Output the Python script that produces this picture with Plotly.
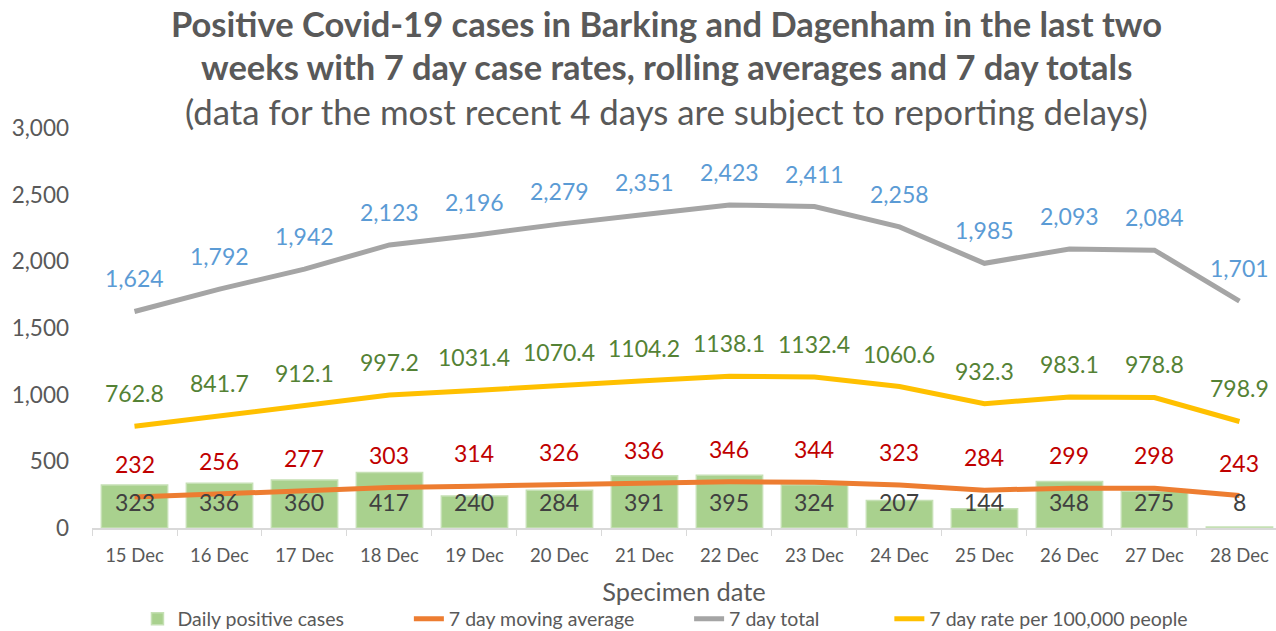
import plotly.graph_objects as go

dates = ["15 Dec", "16 Dec", "17 Dec", "18 Dec", "19 Dec", "20 Dec", "21 Dec",
         "22 Dec", "23 Dec", "24 Dec", "25 Dec", "26 Dec", "27 Dec", "28 Dec"]
daily_cases = [323, 336, 360, 417, 240, 284, 391, 395, 324, 207, 144, 348, 275, 8]
moving_avg = [232, 256, 277, 303, 314, 326, 336, 346, 344, 323, 284, 299, 298, 243]
total_7day = [1624, 1792, 1942, 2123, 2196, 2279, 2351, 2423, 2411, 2258, 1985, 2093, 2084, 1701]
rate_7day = [762.8, 841.7, 912.1, 997.2, 1031.4, 1070.4, 1104.2, 1138.1, 1132.4, 1060.6,
             932.3, 983.1, 978.8, 798.9]
series_names = ["Daily positive cases", "7 day moving average", "7 day total",
                "7 day rate per 100,000 people"]

FONT = "Lato"
GREY_TXT = "#595959"
NB = "\u00a0"

fig = go.Figure()
fig.add_trace(go.Bar(x=dates, y=daily_cases, name=series_names[0] + NB * 12,
                     marker=dict(color="#A9D18E", line=dict(color="#C5E0B4", width=1.5)),
                     width=0.78))
fig.add_trace(go.Scatter(x=dates, y=moving_avg, name=series_names[1] + NB * 10, mode="lines",
                         line=dict(color="#ED7D31", width=5)))
fig.add_trace(go.Scatter(x=dates, y=total_7day, name=series_names[2] + NB * 13, mode="lines",
                         line=dict(color="#A5A5A5", width=5)))
fig.add_trace(go.Scatter(x=dates, y=rate_7day, name=series_names[3], mode="lines",
                         line=dict(color="#FFC000", width=5)))

LBL = 23
ann = []
for d, v in zip(dates, daily_cases):
    ann.append(dict(x=d, y=0, text=str(v), showarrow=False, yanchor="middle", yshift=26,
                    font=dict(family=FONT, size=LBL, color="#404040")))
for d, v in zip(dates, moving_avg):
    ann.append(dict(x=d, y=v, text=str(v), showarrow=False, yanchor="middle", yshift=33,
                    font=dict(family=FONT, size=LBL, color="#C00000")))
for d, v in zip(dates, total_7day):
    ann.append(dict(x=d, y=v, text=f"{v:,}", showarrow=False, yanchor="middle", yshift=33,
                    font=dict(family=FONT, size=LBL, color="#5B9BD5")))
for d, v in zip(dates, rate_7day):
    ann.append(dict(x=d, y=v, text=f"{v:.1f}", showarrow=False, yanchor="middle", yshift=33,
                    font=dict(family=FONT, size=LBL, color="#548235")))

title_lines = [
    ("<b>Positive Covid-19 cases in Barking and Dagenham in the last two</b>", 1.2612, 34.5),
    ("<b>weeks with 7 day case rates, rolling averages and 7 day totals</b>", 1.1525, 34.5),
    ("(data for the most recent 4 days are subject to reporting delays)", 1.04, 34.8),
]
for t, yy, fs in title_lines:
    ann.append(dict(x=0.4856, y=yy, xref="paper", yref="paper", text=t, showarrow=False,
                    xanchor="center", yanchor="middle",
                    font=dict(family=FONT, size=fs, color=GREY_TXT)))

fig.update_layout(
    width=1276, height=631,
    margin=dict(l=92, r=0, t=128, b=103, autoexpand=False),
    paper_bgcolor="white", plot_bgcolor="white",
    font=dict(family=FONT, color=GREY_TXT),
    showlegend=True,
    legend=dict(orientation="h", x=0.0384, xanchor="left", y=-0.2275, yanchor="middle",
                font=dict(family=FONT, size=19.5, color=GREY_TXT), itemwidth=30,
                traceorder="normal"),
    annotations=ann,
    bargap=0.22,
)
fig.update_xaxes(range=[-0.5, 13.43], showline=True, linecolor="#D9D9D9", linewidth=1.5,
                 ticks="outside", tickson="boundaries", ticklen=6, tickcolor="#D9D9D9",
                 tickfont=dict(family=FONT, size=18.5, color=GREY_TXT), ticklabelstandoff=10,
                 title=dict(text="Specimen date", font=dict(family=FONT, size=25.4, color=GREY_TXT),
                            standoff=18),
                 showgrid=False, automargin=False)
fig.update_yaxes(range=[0, 3000], tickvals=[0, 500, 1000, 1500, 2000, 2500, 3000],
                 tickformat=",d", showgrid=False, showline=False, zeroline=False,
                 tickfont=dict(family=FONT, size=22.5, color=GREY_TXT), ticklabelstandoff=22,
                 automargin=False)

fig.write_html("out.html", config={"displayModeBar": False},
               post_script="document.body.style.margin='0';")
